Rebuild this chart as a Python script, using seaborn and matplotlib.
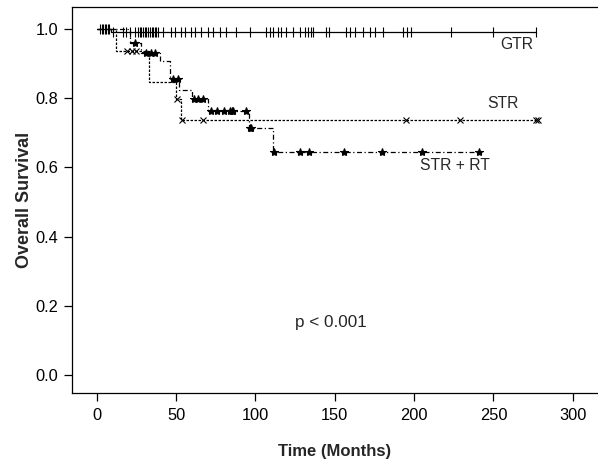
import numpy as np
import pandas as pd
import matplotlib
matplotlib.use("Agg")
import matplotlib.pyplot as plt
import seaborn as sns

sns.set_style("ticks")
plt.rcParams["font.family"] = ["Liberation Sans", "DejaVu Sans"]

# ---- data (months, survival) ----
gtr_times = [0, 9, 277]
gtr_surv = [1.0, 0.99, 0.99]
gtr_censor = [2, 3, 4, 5, 6, 7, 8, 10, 16.6, 18.7, 20.8, 23.9, 26, 27, 28.1, 29, 30.2, 31, 32.3,
              33.5, 34.5, 35.5, 36.5, 37.5, 38.6, 41.8, 47, 49.1, 53.4, 55.5, 59.7, 61.8, 66,
              70.1, 73.3, 77.5, 81.7, 88, 96.4, 106.9, 109, 111.1, 114.3, 116.4, 119.5, 123.7,
              127.9, 131, 133, 135.3, 136.3, 144.7, 146.4, 157.3, 159.4, 162.6, 167.8, 172,
              175.2, 180.4, 193, 195.2, 198.3, 223.5, 249.7, 277]

str_times = [0, 12, 33, 50, 53, 278]
str_surv = [1.0, 0.937, 0.846, 0.797, 0.737, 0.737]
str_censor = [19, 22, 25, 50.5, 53.5, 67, 195, 229, 277, 278]

strrt_times = [0, 21, 28, 40, 46, 52, 60, 70, 96, 111, 241]
strrt_surv = [1.0, 0.958, 0.93, 0.907, 0.855, 0.824, 0.797, 0.764, 0.713, 0.645, 0.645]
strrt_censor = [24, 31, 34, 37, 48, 51, 61, 64, 67, 72, 76, 80, 84, 85, 86, 94, 96.5, 97.5,
                111.5, 128, 134, 156, 180, 205, 241]


def surv_at(t, times, surv):
    idx = np.searchsorted(times, t, side="right") - 1
    return surv[idx]


curves = pd.concat([
    pd.DataFrame({"time": gtr_times, "surv": gtr_surv, "group": "GTR"}),
    pd.DataFrame({"time": str_times, "surv": str_surv, "group": "STR"}),
    pd.DataFrame({"time": strrt_times, "surv": strrt_surv, "group": "STR + RT"}),
])

fig = plt.figure(figsize=(5.98, 4.62), dpi=100)
ax = fig.add_axes([0.120, 0.149, 0.8796, 0.836])

styles = {"GTR": "-", "STR": (0, (2, 1.2)), "STR + RT": (0, (4, 2, 1, 2))}
for name, sub in curves.groupby("group"):
    sns.lineplot(data=sub, x="time", y="surv", drawstyle="steps-post", estimator=None,
                 color="black", linewidth=0.9, linestyle=styles[name], ax=ax, legend=False)

# censor marks
cens = [(gtr_censor, gtr_times, gtr_surv, "|", 7),
        (str_censor, str_times, str_surv, "x", 4),
        (strrt_censor, strrt_times, strrt_surv, "*", 6)]
for ct, tt, ss, mk, ms in cens:
    yy = [surv_at(t, tt, ss) for t in ct]
    ax.plot(ct, yy, linestyle="none", marker=mk, markersize=ms, color="black",
            markeredgewidth=0.8)

ax.text(264.6, 0.954, "GTR", fontsize=11.3, ha="center", va="center")
ax.text(256, 0.786, "STR", fontsize=11.3, ha="center", va="center")
ax.text(225.6, 0.607, "STR + RT", fontsize=11.3, ha="center", va="center")
ax.text(147.5, 0.153, "p < 0.001", fontsize=12.3, ha="center", va="center")

ax.set_xlim(-15.75, 315.7)
ax.set_ylim(-0.052, 1.0636)
ax.set_xticks(range(0, 301, 50))
ax.set_yticks(np.arange(0, 1.01, 0.2))
ax.set_yticklabels([f"{v:.1f}" for v in np.arange(0, 1.01, 0.2)])
ax.tick_params(direction="out", length=6, width=0.9, labelsize=11.8, colors="black")
ax.tick_params(axis="x", pad=5)
ax.set_xlabel("Time (Months)", fontsize=12, fontweight="bold", labelpad=15)
ax.set_ylabel("Overall Survival", fontsize=13, fontweight="bold", labelpad=2)
for s in ax.spines.values():
    s.set_linewidth(0.9)
    s.set_color("black")
ax.spines["right"].set_visible(False)

fig.savefig("out.png", dpi=100)
